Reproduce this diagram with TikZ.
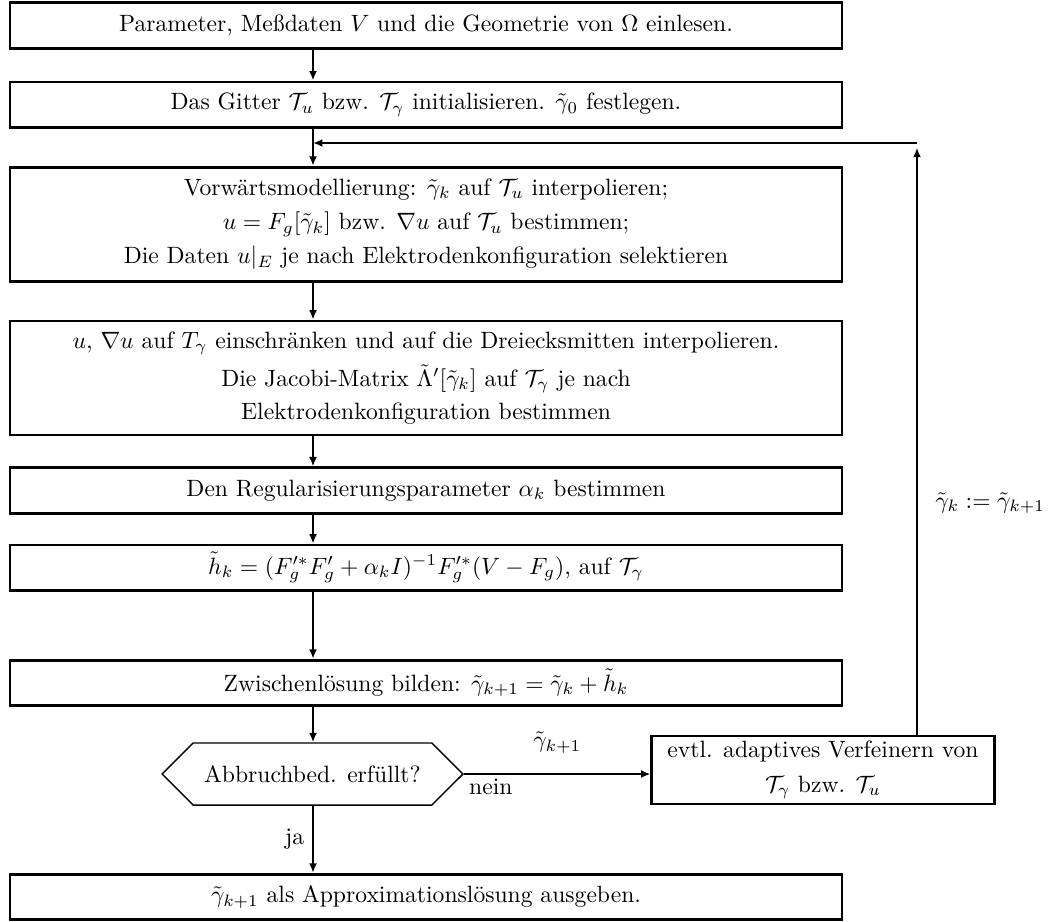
\documentclass[tikz,border=0pt]{standalone}
\usepackage{fontspec}
\usepackage{amsmath}
\usetikzlibrary{arrows.meta,positioning,shapes.symbols}

\begin{document}
\begin{tikzpicture}[
    x=0.4237pt, y=-0.4237pt,
    stepbox/.style={rectangle, draw, line width=1.2pt, minimum width=352.5pt, minimum height=19.2pt, align=center, inner sep=2pt},
    bigbox/.style={stepbox, minimum height=48.3pt},
    decision/.style={signal, signal to=west and east, draw, line width=0.6pt, minimum width=127.5pt, minimum height=26.3pt, inner sep=2pt},
    arrow/.style={-{Latex[length=4pt,width=3.4pt]}, line width=0.8pt}
]
    \useasboundingbox (0,0) rectangle (1062,921);
    \coordinate (col) at (313,0);
    \coordinate (back) at (917,143);

    \node[stepbox] (read) at (426,25.5) {Parameter, Meßdaten $V$ und die Geometrie von $\Omega$ einlesen.};
    \node[stepbox, below=13.1pt of read] (grid) {Das Gitter $\mathcal{T}_u$ bzw. $\mathcal{T}_\gamma$ initialisieren. $\tilde\gamma_0$ festlegen.};
    \node[bigbox, below=15.7pt of grid] (forward) {Vorwärtsmodellierung: $\tilde\gamma_k$ auf $\mathcal{T}_u$ interpolieren;\\[2.5pt]
        $u=F_g[\tilde\gamma_k]$ bzw. $\nabla u$ auf $\mathcal{T}_u$ bestimmen;\\[2.5pt]
        Die Daten $u|_E$ je nach Elektrodenkonfiguration selektieren};
    \node[bigbox, below=15.7pt of forward] (jacobi) {$u$, $\nabla u$ auf $T_\gamma$ einschränken und auf die Dreiecksmitten interpolieren.\\[3pt]
        Die Jacobi-Matrix $\tilde\Lambda'[\tilde\gamma_k]$ auf $\mathcal{T}_\gamma$ je nach\\[2pt]
        Elektrodenkonfiguration bestimmen};
    \node[stepbox, below=12.7pt of jacobi] (alpha) {Den Regularisierungsparameter $\alpha_k$ bestimmen};
    \node[stepbox, below=12.3pt of alpha] (update) {$\tilde h_k = (F_g^{\prime *}F_g^{\prime} + \alpha_k I)^{-1}F_g^{\prime *}(V-F_g)$, auf $\mathcal{T}_\gamma$};
    \node[stepbox, below=28.4pt of update] (interim) {Zwischenlösung bilden: $\tilde\gamma_{k+1} = \tilde\gamma_k + \tilde h_k$};
    \node[decision] (stop) at (312.5,774) {Abbruchbed. erfüllt?};
    \node[stepbox, below=28.4pt of stop.south -| read] (output) {$\tilde\gamma_{k+1}$ als Approximationslösung ausgeben.};
    \node[stepbox, minimum width=145pt, minimum height=28.8pt] (refine) at (823,770) {evtl. adaptives Verfeinern von\\[2.5pt] $\mathcal{T}_\gamma$ bzw. $\mathcal{T}_u$};
    \node[anchor=west] (assign) at (927,503) {$\tilde\gamma_k := \tilde\gamma_{k+1}$};

    \draw[arrow] (read.south -| col) -- (grid.north -| col);
    \draw[arrow] (grid.south -| col) -- (forward.north -| col);
    \draw[arrow] (forward.south -| col) -- (jacobi.north -| col);
    \draw[arrow] (jacobi.south -| col) -- (alpha.north -| col);
    \draw[arrow] (alpha.south -| col) -- (update.north -| col);
    \draw[arrow] (update.south -| col) -- (interim.north -| col);
    \draw[arrow] (interim.south -| col) -- (stop.north -| col);
    \draw[arrow] (stop.south -| col) -- node[left]{ja} (output.north -| col);
    \draw[arrow] (stop.east) -- node[above=5pt]{$\tilde\gamma_{k+1}$} (stop.east -| refine.west);
    \node[below right, inner sep=2pt] (no) at (stop.east) {nein};
    \draw[arrow] (refine.north -| back) -- ([yshift=-2pt]back);
    \draw[arrow] (back) -- (back -| col);
\end{tikzpicture}
\end{document}
